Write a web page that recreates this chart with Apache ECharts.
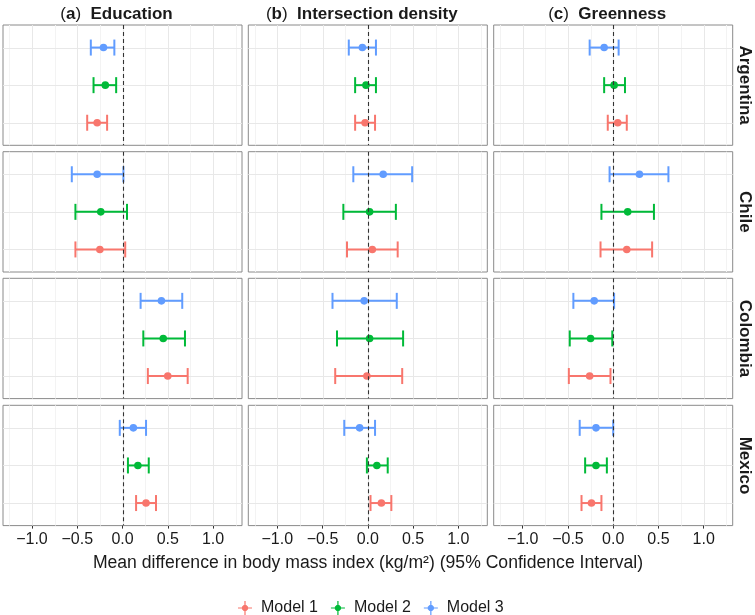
<!DOCTYPE html>
<html>
<head>
<meta charset="utf-8">
<script src="https://cdn.jsdelivr.net/npm/echarts@6/dist/echarts.min.js"></script>
<style>
html, body { margin: 0; padding: 0; background: #fff; }
#main { width: 755px; height: 615px; }
</style>
</head>
<body>
<div id="main"></div>
<script>
var letters = ['a', 'b', 'c'];
var exposures = ['Education', 'Intersection density', 'Greenness'];
var countries = ['Argentina', 'Chile', 'Colombia', 'Mexico'];
var models = ['Model 1', 'Model 2', 'Model 3'];
var colors = ['#F8766D', '#00BA38', '#619CFF'];
var xTicks = [-1.0, -0.5, 0, 0.5, 1.0];
var xMinor = [-1.25, -0.75, -0.25, 0.25, 0.75, 1.25];
var yLevels = [1, 2, 3];

// [low, estimate, high] per country (Argentina, Chile, Colombia, Mexico)
var eduM1 = [[-0.39, -0.28, -0.17], [-0.52, -0.25, 0.03], [0.28, 0.50, 0.72], [0.15, 0.26, 0.37]];
var eduM2 = [[-0.32, -0.19, -0.07], [-0.52, -0.24, 0.05], [0.23, 0.45, 0.69], [0.06, 0.17, 0.29]];
var eduM3 = [[-0.35, -0.21, -0.09], [-0.56, -0.28, 0.01], [0.20, 0.43, 0.66], [-0.03, 0.12, 0.26]];

var intM1 = [[-0.14, -0.03, 0.08], [-0.23, 0.05, 0.33], [-0.36, -0.01, 0.38], [0.03, 0.15, 0.26]];
var intM2 = [[-0.14, -0.02, 0.09], [-0.27, 0.02, 0.31], [-0.34, 0.02, 0.39], [-0.01, 0.10, 0.22]];
var intM3 = [[-0.21, -0.06, 0.09], [-0.16, 0.17, 0.49], [-0.39, -0.04, 0.32], [-0.26, -0.09, 0.08]];

var grnM1 = [[-0.06, 0.05, 0.15], [-0.14, 0.15, 0.43], [-0.49, -0.26, -0.03], [-0.35, -0.24, -0.13]];
var grnM2 = [[-0.10, 0.01, 0.13], [-0.13, 0.16, 0.45], [-0.48, -0.25, -0.01], [-0.31, -0.19, -0.07]];
var grnM3 = [[-0.26, -0.10, 0.06], [-0.04, 0.29, 0.61], [-0.44, -0.21, 0.01], [-0.37, -0.19, 0.00]];

var allData = [[eduM1, eduM2, eduM3], [intM1, intM2, intM3], [grnM1, grnM2, grnM3]];

var font = '"Liberation Sans", Arial, sans-serif';
var panelLeft = [3, 248.3, 493.7];
var panelTop = [25, 151.7, 278.3, 405.3];
var panelW = 239, panelH = 120.3;

var grids = [], xAxes = [], yAxes = [], series = [], graphics = [];

// error bar + point
function renderBar(params, api) {
  var y = api.value(3);
  var lo = api.coord([api.value(0), y]);
  var mid = api.coord([api.value(1), y]);
  var hi = api.coord([api.value(2), y]);
  var c = api.visual('color');
  var h = 8;
  var st = { stroke: c, lineWidth: 2 };
  return {
    type: 'group',
    children: [
      { type: 'line', shape: { x1: lo[0], y1: lo[1], x2: hi[0], y2: hi[1] }, style: st },
      { type: 'line', shape: { x1: lo[0], y1: lo[1] - h, x2: lo[0], y2: lo[1] + h }, style: st },
      { type: 'line', shape: { x1: hi[0], y1: hi[1] - h, x2: hi[0], y2: hi[1] + h }, style: st },
      { type: 'circle', shape: { cx: mid[0], cy: mid[1], r: 3.8 }, style: { fill: c } }
    ]
  };
}

// background grid lines / reference line: [x, y, dir(0 vertical,1 horizontal), kind]
function renderGuide(params, api) {
  var cs = params.coordSys;
  var p = api.coord([api.value(0), api.value(1)]);
  var kind = api.value(3);
  var shape;
  if (api.value(2) === 0) {
    var x = Math.round(p[0]) + 0.5;
    shape = { x1: x, y1: cs.y, x2: x, y2: cs.y + cs.height };
  } else {
    var yy = Math.round(p[1]) + 0.5;
    shape = { x1: cs.x, y1: yy, x2: cs.x + cs.width, y2: yy };
  }
  var style;
  if (kind === 2) style = { stroke: '#333', lineWidth: 1.1, lineDash: [4, 3] };
  else if (kind === 1) style = { stroke: '#e8e8e8', lineWidth: 1 };
  else style = { stroke: '#f3f3f3', lineWidth: 1 };
  return { type: 'line', shape: shape, style: style, silent: true };
}

for (var r = 0; r < countries.length; r++) {
  for (var c = 0; c < exposures.length; c++) {
    var idx = grids.length;
    grids.push({
      left: panelLeft[c], top: panelTop[r], width: panelW, height: panelH,
      show: true, borderColor: '#8a8a8a', borderWidth: 1, backgroundColor: '#fff'
    });
    xAxes.push({
      gridIndex: idx, type: 'value', min: -1.32, max: 1.32,
      axisLine: { show: false },
      axisTick: { show: r === 3, customValues: xTicks, length: 3, lineStyle: { color: '#333' } },
      splitLine: { show: false },
      axisLabel: {
        show: r === 3, customValues: xTicks, margin: 6, fontSize: 16, color: '#1a1a1a', fontFamily: font,
        formatter: function (v) { return v.toFixed(1).replace('-', '\u2212'); }
      }
    });
    yAxes.push({
      gridIndex: idx, type: 'value', min: 0.4, max: 3.6,
      axisLine: { show: false }, axisTick: { show: false }, axisLabel: { show: false }, splitLine: { show: false }
    });

    var gl = [];
    xMinor.forEach(function (v) { gl.push([v, 2, 0, 0]); });
    xTicks.forEach(function (v) { gl.push([v, 2, 0, 1]); });
    yLevels.forEach(function (v) { gl.push([0, v, 1, 1]); });
    series.push({
      type: 'custom', xAxisIndex: idx, yAxisIndex: idx, silent: true, z: 1,
      encode: { x: 0, y: 1 }, renderItem: renderGuide, data: gl
    });

    for (var m = 0; m < models.length; m++) {
      var d = allData[c][m][r];
      series.push({
        type: 'custom', name: models[m], xAxisIndex: idx, yAxisIndex: idx, z: 3,
        itemStyle: { color: colors[m] },
        encode: { x: [0, 1, 2], y: 3 },
        renderItem: renderBar,
        data: [[d[0], d[1], d[2], yLevels[m]]]
      });
    }

    series.push({
      type: 'custom', xAxisIndex: idx, yAxisIndex: idx, silent: true, z: 5,
      encode: { x: 0, y: 1 }, renderItem: renderGuide, data: [[0, 2, 0, 2]]
    });
  }
}

var richTitle = {
  p: { font: '17px ' + font, fill: '#1a1a1a' },
  b: { font: 'bold 17px ' + font, fill: '#1a1a1a' }
};
exposures.forEach(function (t, c) {
  graphics.push({
    type: 'text', x: panelLeft[c] + panelW / 2 - 6, y: 14,
    style: {
      text: '{p|(}{b|' + letters[c] + '}{p|)}{p|  }{b|' + t + '}',
      rich: richTitle, align: 'center', verticalAlign: 'middle'
    }
  });
});
countries.forEach(function (t, r) {
  graphics.push({
    type: 'text', x: 745, y: panelTop[r] + panelH / 2, rotation: -Math.PI / 2,
    style: { text: t, font: 'bold 17px ' + font, fill: '#1a1a1a', align: 'center', verticalAlign: 'middle' }
  });
});
graphics.push({
  type: 'text', x: 368, y: 563,
  style: {
    text: 'Mean difference in body mass index (kg/m\u00b2) (95% Confidence Interval)',
    font: '17.6px ' + font, fill: '#1a1a1a', align: 'center', verticalAlign: 'middle'
  }
});

var chart = echarts.init(document.getElementById('main'), null, { renderer: 'canvas' });
chart.setOption({
  animation: false,
  backgroundColor: '#fff',
  grid: grids,
  xAxis: xAxes,
  yAxis: yAxes,
  legend: {
    data: models, left: 233, top: 595, itemWidth: 14, itemHeight: 14, itemGap: 13,
    icon: 'path://M7.3,0H8.7V4.5H9.45L11.5,6.55V7.3H16V8.7H11.5V9.45L9.45,11.5H8.7V16H7.3V11.5H6.55L4.5,9.45V8.7H0V7.3H4.5V6.55L6.55,4.5H7.3Z',
    textStyle: { fontSize: 16, color: '#1a1a1a', fontFamily: font, padding: [0, 0, 0, 4] }
  },
  series: series,
  graphic: graphics
});
</script>
</body>
</html>
